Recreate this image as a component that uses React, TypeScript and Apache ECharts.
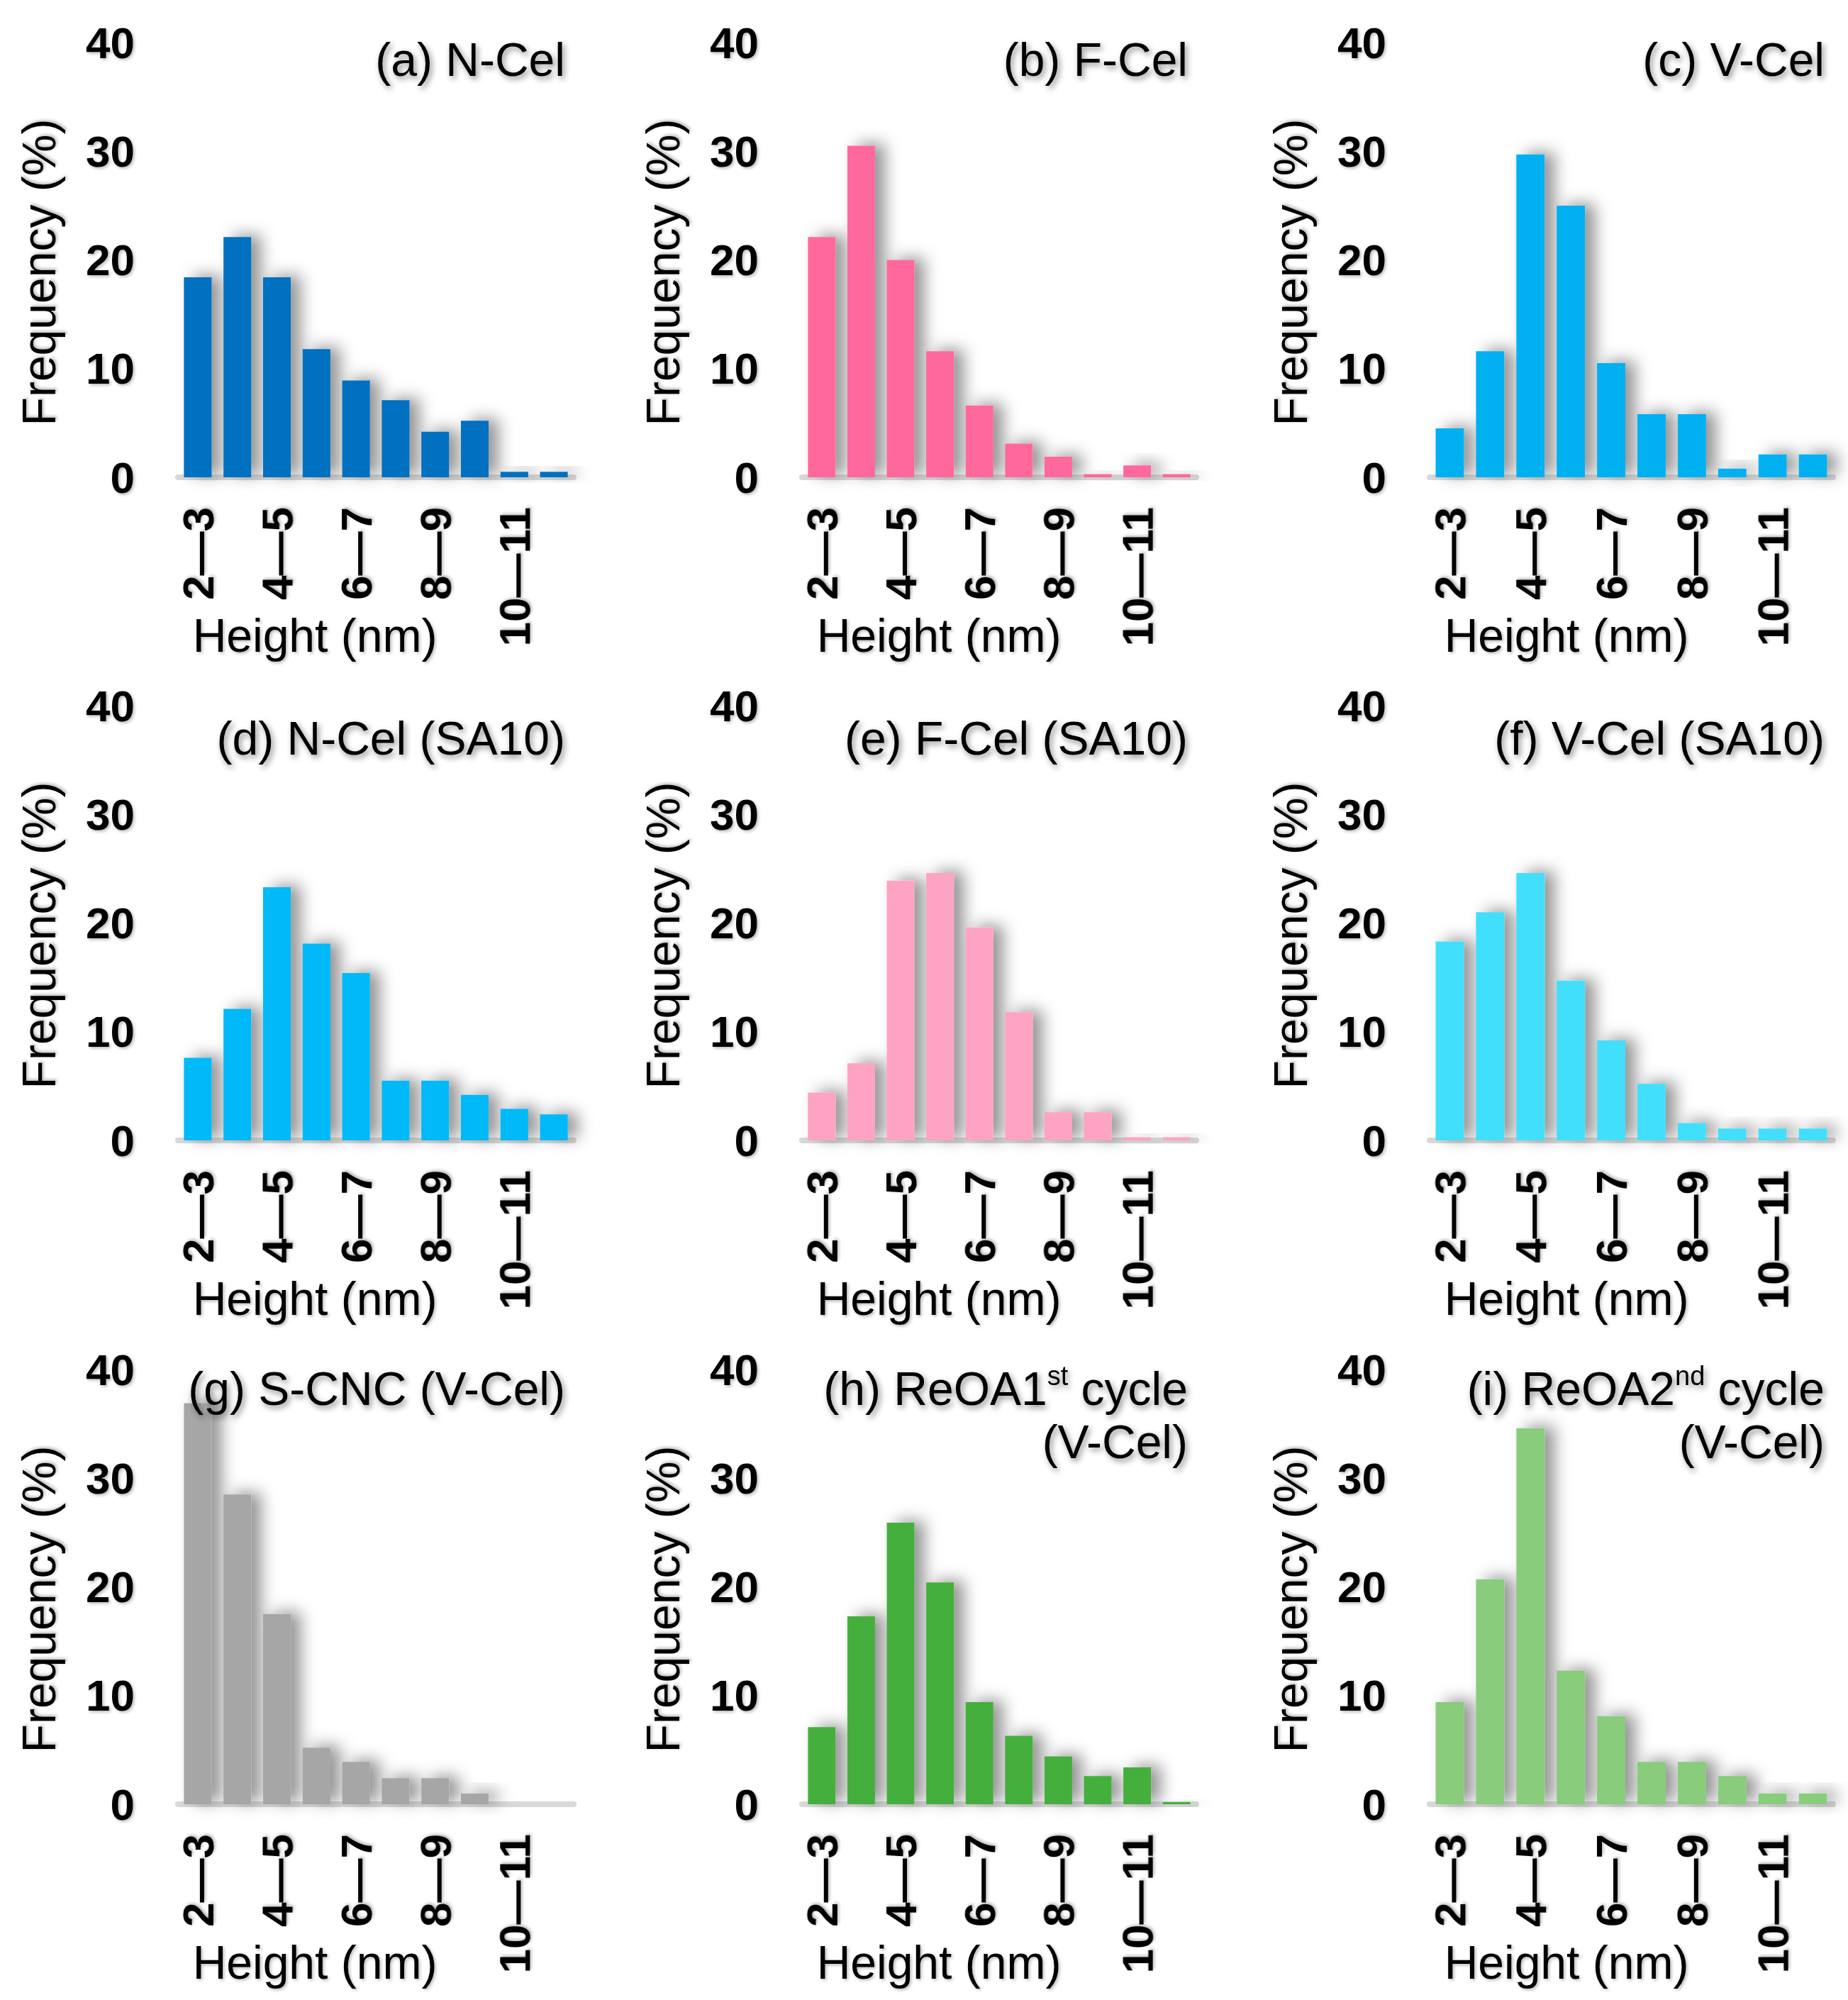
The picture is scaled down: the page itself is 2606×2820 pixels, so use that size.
import React, { useEffect, useRef } from "react";
import * as echarts from "echarts";

// ---------- data ----------
const categories = ["2—3", "3—4", "4—5", "5—6", "6—7", "7—8", "8—9", "9—10", "10—11", "11—12"];
const yMin = 0;
const yMax = 40;
const yInterval = 10;

const nCel = [18.4, 22.1, 18.4, 11.8, 8.9, 7.1, 4.2, 5.2, 0.5, 0.5];
const fCel = [22.1, 30.5, 20.0, 11.6, 6.6, 3.1, 1.9, 0.3, 1.1, 0.3];
const vCel = [4.5, 11.6, 29.7, 25.0, 10.5, 5.8, 5.8, 0.8, 2.1, 2.1];
const nCelSA10 = [7.6, 12.1, 23.3, 18.1, 15.4, 5.5, 5.5, 4.2, 2.9, 2.4];
const fCelSA10 = [4.4, 7.1, 23.9, 24.6, 19.6, 11.8, 2.6, 2.6, 0.3, 0.3];
const vCelSA10 = [18.3, 21.0, 24.6, 14.7, 9.2, 5.2, 1.6, 1.1, 1.1, 1.1];
const sCNC = [36.9, 28.5, 17.5, 5.2, 3.9, 2.4, 2.4, 1.0, 0, 0];
const reoa1 = [7.1, 17.3, 25.9, 20.4, 9.4, 6.3, 4.4, 2.6, 3.4, 0.2];
const reoa2 = [9.4, 20.7, 34.6, 12.3, 8.1, 3.9, 3.9, 2.6, 1.0, 1.0];

const panelData = [nCel, fCel, vCel, nCelSA10, fCelSA10, vCelSA10, sCNC, reoa1, reoa2];
const panelTitles = [
  "{n|(a) N-Cel}",
  "{n|(b) F-Cel}",
  "{n|(c) V-Cel}",
  "{n|(d) N-Cel (SA10)}",
  "{n|(e) F-Cel (SA10)}",
  "{n|(f) V-Cel (SA10)}",
  "{n|(g) S-CNC (V-Cel)}",
  "{n|(h) ReOA1}{s|st}{n| cycle}\n{n|(V-Cel)}",
  "{n|(i) ReOA2}{s|nd}{n| cycle}\n{n|(V-Cel)}",
];
const yAxisName = "Frequency (%)";
const xAxisName = "Height (nm)";

// ---------- styles / layout ----------
const panelColors = [
  "#0070C0", "#FF689D", "#00B0F0",
  "#00B9F8", "#FFA3C4", "#42DFFC",
  "#A6A6A6", "#44AF3C", "#88CC7B",
];
const colLeft = [251, 1131, 2016];
const colWidth = [558, 556, 569];
const rowTop = [60, 995, 1931];
const rowHeight = 613;
const titleDy = [24, 46, 27];
const TITLE_LH = 75;
const FONT = "'Liberation Sans', Arial, Helvetica, sans-serif";

function buildOption() {
  const grid: any[] = [];
  const xAxis: any[] = [];
  const yAxis: any[] = [];
  const series: any[] = [];
  const graphic: any[] = [];

  const labelShadow = {
    textShadowColor: "rgba(0,0,0,0.28)",
    textShadowBlur: 4,
    textShadowOffsetX: 2,
    textShadowOffsetY: 2,
  };
  const titleShadow = {
    textShadowColor: "rgba(0,0,0,0.45)",
    textShadowBlur: 8,
    textShadowOffsetX: 3,
    textShadowOffsetY: 4,
  };

  for (let i = 0; i < 9; i++) {
    const r = Math.floor(i / 3);
    const c = i % 3;
    const left = colLeft[c];
    const top = rowTop[r];
    const width = colWidth[c];
    const bottom = top + rowHeight;

    grid.push({ left, top, width, height: rowHeight, containLabel: false, outerBoundsMode: "none" });

    xAxis.push({
      type: "category",
      gridIndex: i,
      data: categories,
      boundaryGap: true,
      axisTick: { show: false },
      axisLine: { show: true, lineStyle: { color: "#D9D9D9", width: 8 } },
      axisLabel: {
        interval: 1,
        rotate: 90,
        margin: 42,
        fontSize: 62,
        fontWeight: "bold",
        color: "#000",
        fontFamily: FONT,
        ...labelShadow,
      },
    });

    yAxis.push({
      type: "value",
      gridIndex: i,
      min: yMin,
      max: yMax,
      interval: yInterval,
      axisLine: { show: false },
      axisTick: { show: false },
      splitLine: { show: false },
      axisLabel: {
        margin: 61,
        fontSize: 62,
        fontWeight: "bold",
        color: "#000",
        fontFamily: FONT,
        ...labelShadow,
      },
    });

    series.push({
      type: "bar",
      xAxisIndex: i,
      yAxisIndex: i,
      data: panelData[i],
      barCategoryGap: "30%",
      itemStyle: {
        color: panelColors[i],
        shadowBlur: 22,
        shadowColor: "rgba(0,0,0,0.42)",
        shadowOffsetX: 14,
        shadowOffsetY: -3,
      },
    });

    // panel title
    graphic.push({
      type: "text",
      z: 100,
      x: left + width - 12,
      y: top + titleDy[r] - TITLE_LH / 2,
      style: {
        text: panelTitles[i],
        align: "right",
        verticalAlign: "top",
        fill: "#000",
        fontFamily: FONT,
        fontSize: 66,
        ...titleShadow,
        rich: {
          n: { fontSize: 66, fontFamily: FONT, lineHeight: TITLE_LH, fill: "#000", ...titleShadow },
          s: { fontSize: 38, fontFamily: FONT, lineHeight: 53, verticalAlign: "top", fill: "#000", ...titleShadow },
        },
      },
    });

    // y axis name
    graphic.push({
      type: "text",
      z: 100,
      x: left - 196,
      y: top + 324,
      rotation: Math.PI / 2,
      style: {
        text: yAxisName,
        align: "center",
        verticalAlign: "middle",
        fill: "#000",
        fontFamily: FONT,
        fontSize: 66,
        ...labelShadow,
      },
    });

    // x axis name
    graphic.push({
      type: "text",
      z: 100,
      x: left + 193,
      y: bottom + 223,
      style: {
        text: xAxisName,
        align: "center",
        verticalAlign: "middle",
        fill: "#000",
        fontFamily: FONT,
        fontSize: 66,
        ...labelShadow,
      },
    });
  }

  return {
    animation: false,
    backgroundColor: "#FFFFFF",
    textStyle: { fontFamily: FONT },
    grid,
    xAxis,
    yAxis,
    series,
    graphic,
  };
}

export default function App() {
  const ref = useRef<HTMLDivElement>(null);
  useEffect(() => {
    document.body.style.margin = "0";
    if (!ref.current) return;
    const chart = echarts.init(ref.current, undefined, { renderer: "svg" });
    chart.setOption(buildOption() as any);
    return () => {
      chart.dispose();
    };
  }, []);
  return <div ref={ref} style={{ width: 2606, height: 2820, background: "#fff" }} />;
}
